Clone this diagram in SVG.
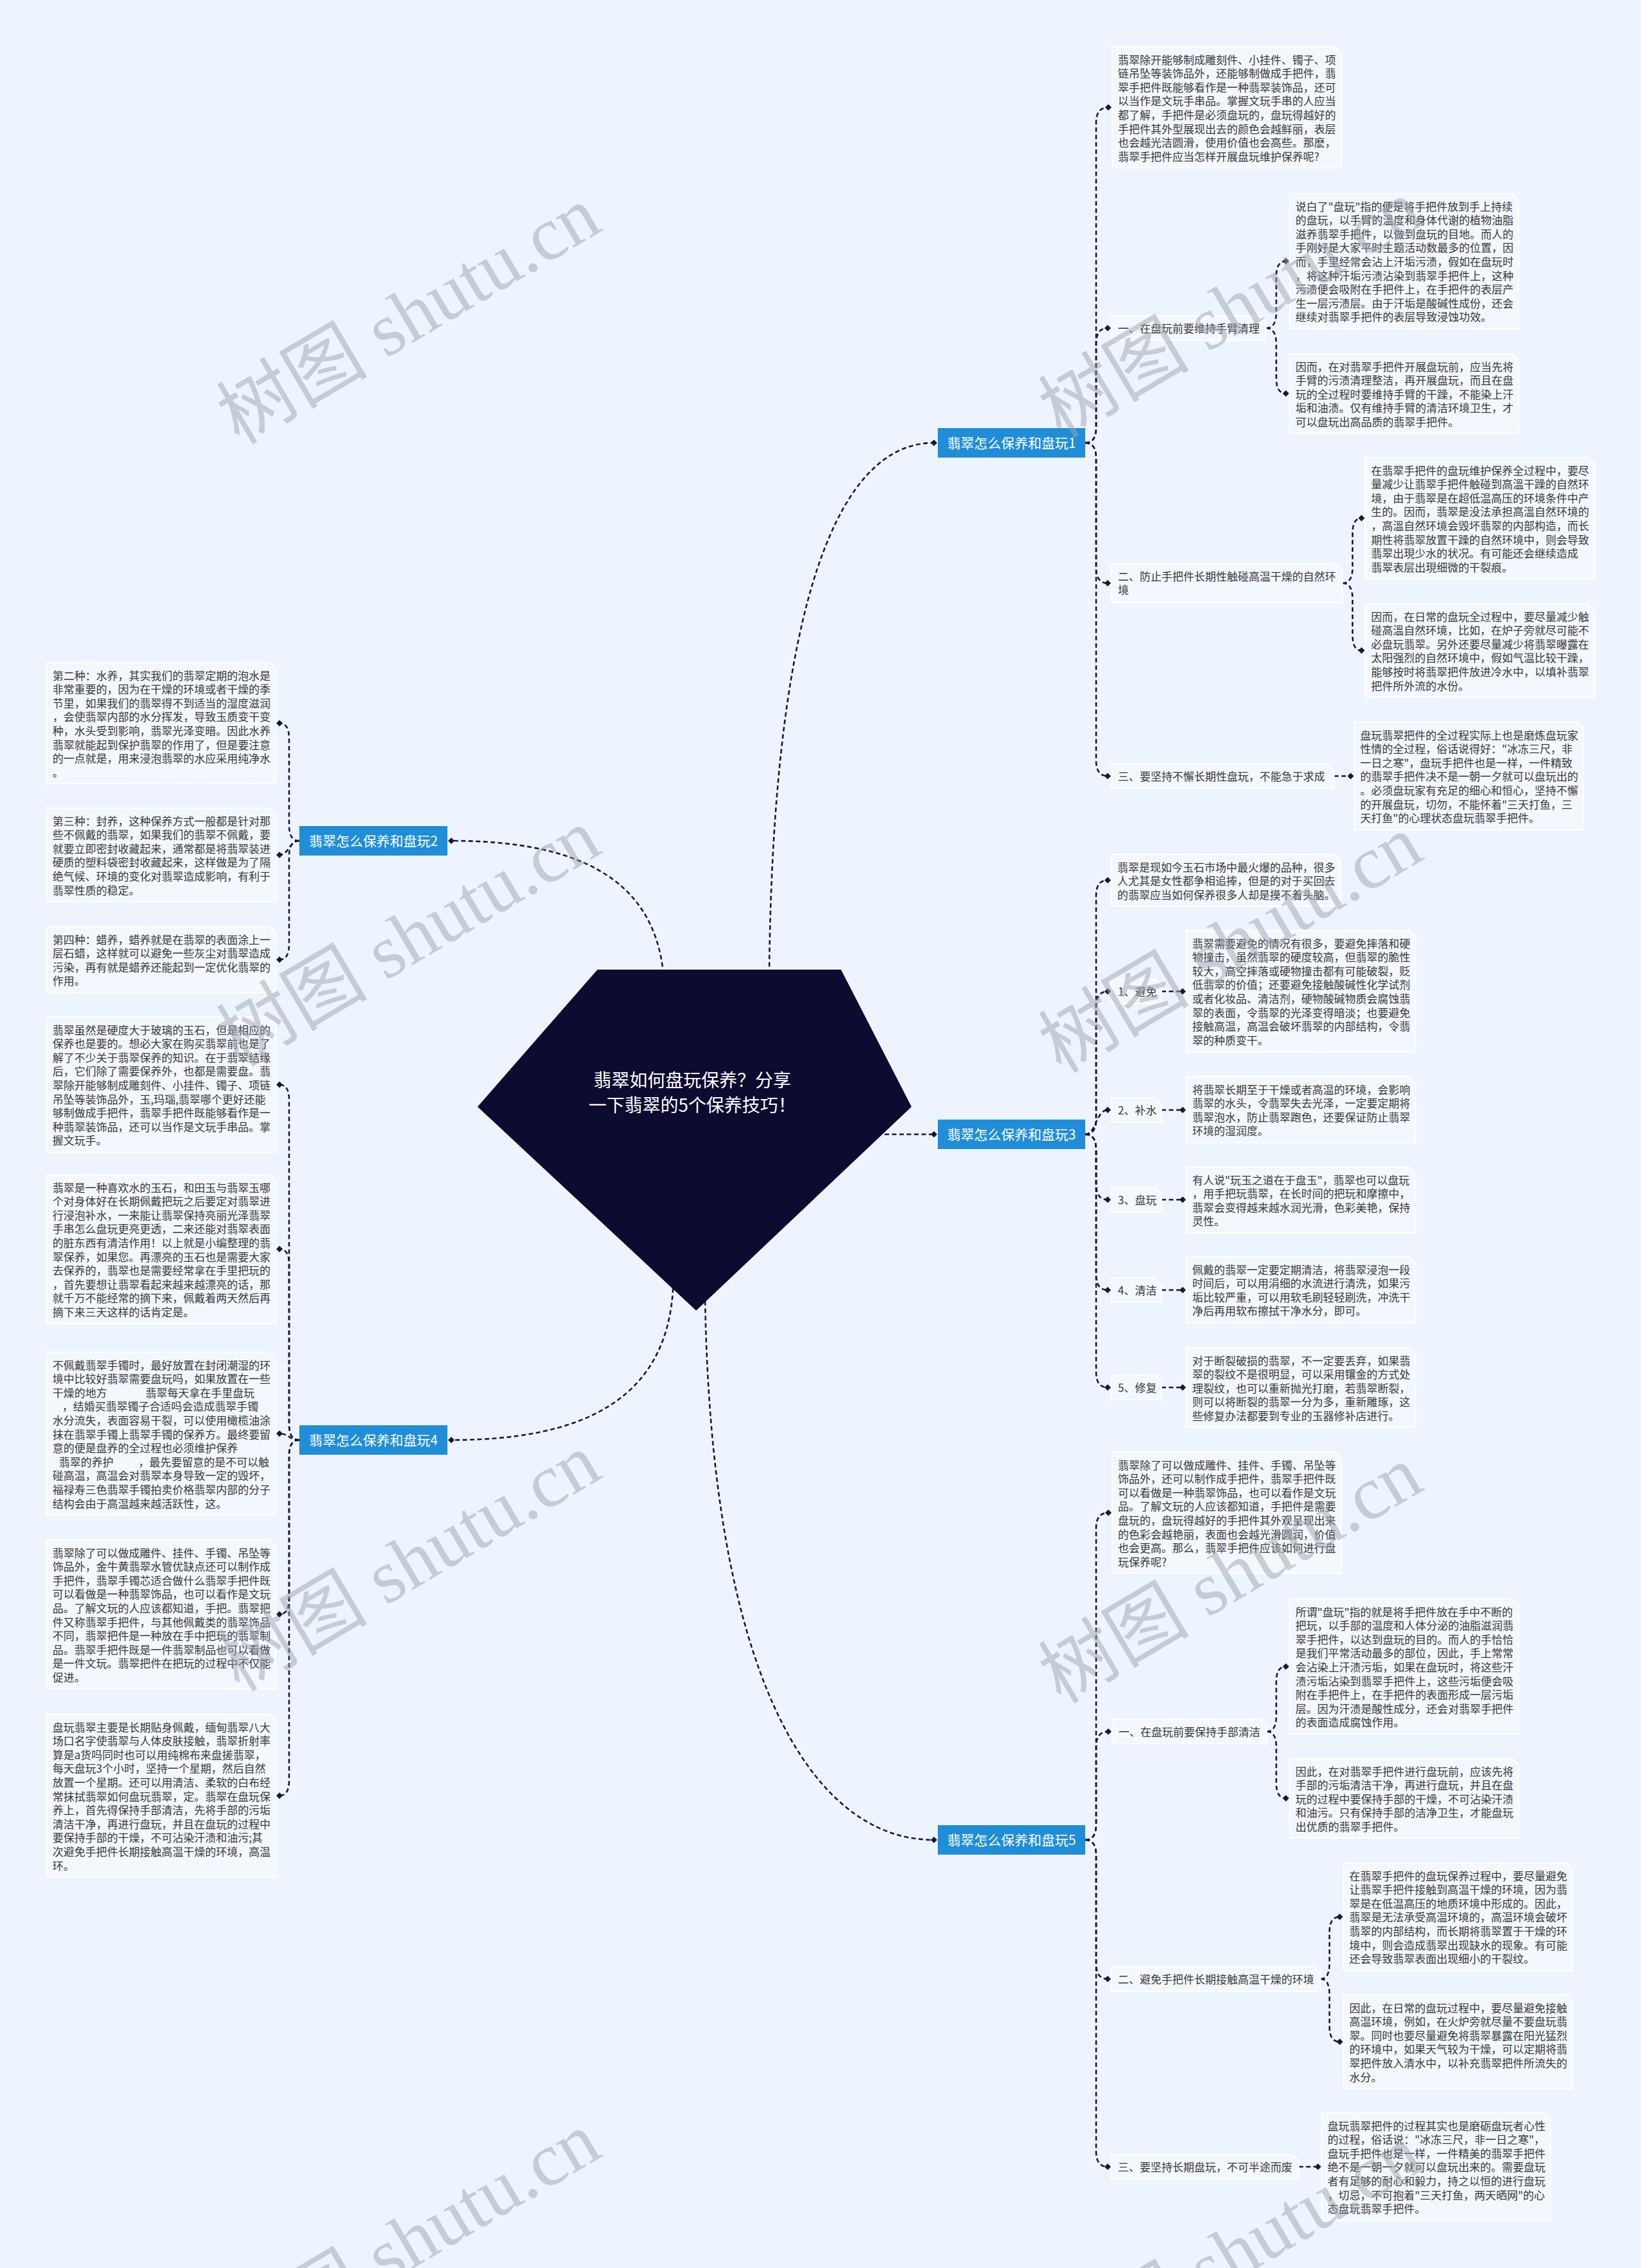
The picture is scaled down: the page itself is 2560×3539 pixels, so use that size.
<svg xmlns="http://www.w3.org/2000/svg" width="2560" height="3539" viewBox="0 0 2560 3539">
<style>
.bg{fill:#eef4fd}
.box{fill:#f3f7fe;stroke:#ffffff;stroke-width:2}
.t{font-family:"Noto Sans CJK SC","Liberation Sans",sans-serif;font-size:17px;fill:#383838}
.br{fill:#1f8dd8}
.bt{font-family:"Noto Sans CJK SC","Liberation Sans",sans-serif;font-size:21px;fill:#ffffff;text-anchor:middle}
.ct{font-family:"Noto Sans CJK SC","Liberation Sans",sans-serif;font-size:28px;fill:#ffffff;text-anchor:middle}
.cn{fill:none;stroke:#17173a;stroke-width:2.6;stroke-dasharray:7 4.5;marker-end:url(#dia)}
.wm{font-family:"Liberation Serif","Noto Sans CJK SC",serif;font-size:118px;fill:#9ea4b0;fill-opacity:0.5}
</style>
<defs>
<marker id="dia" viewBox="-6 -6 12 12" refX="0" refY="0" markerWidth="12" markerHeight="12" markerUnits="userSpaceOnUse" orient="auto">
<path d="M0,-5 L5,0 L0,5 L-5,0 Z" fill="#17173a"/>
</marker>
</defs>
<rect class="bg" x="0" y="0" width="2560" height="3539"/>

<g id="connectors">
<path class="cn" d="M1200 1520 C1205 1000 1290 691 1457 691"/>
<path class="cn" d="M1035 1520 C1020 1370 900 1312 704 1312"/>
<path class="cn" d="M1380 1770 H1457"/>
<path class="cn" d="M1050 2010 C1040 2190 900 2247 704 2247"/>
<path class="cn" d="M1100 2030 C1110 2600 1260 2871 1457 2871"/>

<path class="cn" d="M1693 691 Q1710 691 1710 667 V191.5 Q1710 167.5 1729 167.5"/>
<path class="cn" d="M1693 691 Q1710 691 1710 667 V536 Q1710 512 1728 512"/>
<path class="cn" d="M1693 691 Q1710 691 1710 715 V886 Q1710 910 1728 910"/>
<path class="cn" d="M1693 691 Q1710 691 1710 715 V1187 Q1710 1211 1728 1211"/>
<path class="cn" d="M1975 512 Q1991 512 1991 488 V431.5 Q1991 407.5 2006 407.5"/>
<path class="cn" d="M1975 512 Q1991 512 1991 536 V590 Q1991 614 2006 614"/>
<path class="cn" d="M2094 910 Q2110 910 2110 886 V832.5 Q2110 808.5 2124 808.5"/>
<path class="cn" d="M2094 910 Q2110 910 2110 934 V991 Q2110 1015 2124 1015"/>
<path class="cn" d="M2081 1211 H2107"/>

<path class="cn" d="M467 1312 Q451 1312 451 1288 V1152.5 Q451 1128.5 436 1128.5"/>
<path class="cn" d="M467 1312 C451 1312 451 1334 436 1334"/>
<path class="cn" d="M467 1312 Q451 1312 451 1336 V1473.5 Q451 1497.5 436 1497.5"/>

<path class="cn" d="M1693 1770 Q1710 1770 1710 1746 V1397.5 Q1710 1373.5 1728 1373.5"/>
<path class="cn" d="M1693 1770 Q1710 1770 1710 1746 V1571 Q1710 1547 1728 1547"/>
<path class="cn" d="M1693 1770 C1710 1770 1710 1732 1728 1732"/>
<path class="cn" d="M1693 1770 Q1710 1770 1710 1794 V1848 Q1710 1872 1728 1872"/>
<path class="cn" d="M1693 1770 Q1710 1770 1710 1794 V1989 Q1710 2013 1728 2013"/>
<path class="cn" d="M1693 1770 Q1710 1770 1710 1794 V2141 Q1710 2165 1728 2165"/>
<path class="cn" d="M1812 1547 H1845"/>
<path class="cn" d="M1812 1732 H1845"/>
<path class="cn" d="M1812 1872 H1845"/>
<path class="cn" d="M1812 2013 H1845"/>
<path class="cn" d="M1812 2165 H1845"/>

<path class="cn" d="M467 2247 Q451 2247 451 2223 V1716.5 Q451 1692.5 436 1692.5"/>
<path class="cn" d="M467 2247 Q451 2247 451 2223 V1973 Q451 1949 436 1949"/>
<path class="cn" d="M467 2247 C451 2247 451 2237 436 2237"/>
<path class="cn" d="M467 2247 Q451 2247 451 2271 V2495 Q451 2519 436 2519"/>
<path class="cn" d="M467 2247 Q451 2247 451 2271 V2778 Q451 2802 436 2802"/>

<path class="cn" d="M1693 2871 Q1710 2871 1710 2847 V2384.5 Q1710 2360.5 1729 2360.5"/>
<path class="cn" d="M1693 2871 Q1710 2871 1710 2847 V2726 Q1710 2702 1729 2702"/>
<path class="cn" d="M1693 2871 Q1710 2871 1710 2895 V3064 Q1710 3088 1728 3088"/>
<path class="cn" d="M1693 2871 Q1710 2871 1710 2895 V3357 Q1710 3381 1728 3381"/>
<path class="cn" d="M1976 2702 Q1991 2702 1991 2678 V2624.5 Q1991 2600.5 2006 2600.5"/>
<path class="cn" d="M1976 2702 Q1991 2702 1991 2726 V2782 Q1991 2806 2006 2806"/>
<path class="cn" d="M2060 3088 Q2074 3088 2074 3064 V3015 Q2074 2991 2090 2991"/>
<path class="cn" d="M2060 3088 Q2074 3088 2074 3112 V3162 Q2074 3186 2090 3186"/>
<path class="cn" d="M2026 3381 H2056"/>
</g>

<g id="root">
<polygon points="932,1513 1312,1513 1422,1727 1086,2045 745,1727" fill="#0c0b30"/>
<text class="ct" x="1080" y="1696">翡翠如何盘玩保养？分享</text>
<text class="ct" x="1080" y="1735">一下翡翠的5个保养技巧！</text>
</g>

<g id="b1"><rect class="br" x="1463" y="668" width="230" height="46"/><text class="bt" x="1578" y="698.5">翡翠怎么保养和盘玩1</text></g>
<g id="b2"><rect class="br" x="467" y="1289" width="231" height="46"/><text class="bt" x="582.5" y="1319.5">翡翠怎么保养和盘玩2</text></g>
<g id="b3"><rect class="br" x="1463" y="1747" width="230" height="46"/><text class="bt" x="1578" y="1777.5">翡翠怎么保养和盘玩3</text></g>
<g id="b4"><rect class="br" x="467" y="2224" width="231" height="46"/><text class="bt" x="582.5" y="2254.5">翡翠怎么保养和盘玩4</text></g>
<g id="b5"><rect class="br" x="1463" y="2848" width="230" height="46"/><text class="bt" x="1578" y="2878.5">翡翠怎么保养和盘玩5</text></g>

<g id="b1-intro"><path class="box" d="M1735 73 H2082 L2092 83 V262 H1735 Z"/>
<text class="t"><tspan x="1744" y="99.5">翡翠除开能够制成雕刻件、小挂件、镯子、项</tspan><tspan x="1744" dy="21.6">链吊坠等装饰品外，还能够制做成手把件，翡</tspan><tspan x="1744" dy="21.6">翠手把件既能够看作是一种翡翠装饰品，还可</tspan><tspan x="1744" dy="21.6">以当作是文玩手串品。掌握文玩手串的人应当</tspan><tspan x="1744" dy="21.6">都了解，手把件是必须盘玩的，盘玩得越好的</tspan><tspan x="1744" dy="21.6">手把件其外型展现出去的颜色会越鲜丽，表层</tspan><tspan x="1744" dy="21.6">也会越光洁圆滑，使用价值也会高些。那麽，</tspan><tspan x="1744" dy="21.6">翡翠手把件应当怎样开展盘玩维护保养呢?</tspan></text></g>

<g id="b1-s1"><path class="box" d="M1734 493 H1965 L1975 503 V531 H1734 Z"/><text class="t" x="1744" y="518.5">一、在盘玩前要维持手臂清理</text></g>
<g id="b1-s1-a"><path class="box" d="M2012 302 H2359 L2369 312 V513 H2012 Z"/>
<text class="t"><tspan x="2021" y="328.5">说白了"盘玩"指的便是将手把件放到手上持续</tspan><tspan x="2021" dy="21.6">的盘玩，以手臂的溫度和身体代谢的植物油脂</tspan><tspan x="2021" dy="21.6">滋养翡翠手把件，以做到盘玩的目地。而人的</tspan><tspan x="2021" dy="21.6">手刚好是大家平时主题活动数最多的位置，因</tspan><tspan x="2021" dy="21.6">而，手里经常会沾上汗垢污渍，假如在盘玩时</tspan><tspan x="2021" dy="21.6">，将这种汗垢污渍沾染到翡翠手把件上，这种</tspan><tspan x="2021" dy="21.6">污渍便会吸附在手把件上，在手把件的表层产</tspan><tspan x="2021" dy="21.6">生一层污渍层。由于汗垢是酸碱性成份，还会</tspan><tspan x="2021" dy="21.6">继续对翡翠手把件的表层导致浸蚀功效。</tspan></text></g>
<g id="b1-s1-b"><path class="box" d="M2012 552 H2359 L2369 562 V676 H2012 Z"/>
<text class="t"><tspan x="2021" y="578.5">因而，在对翡翠手把件开展盘玩前，应当先将</tspan><tspan x="2021" dy="21.6">手臂的污渍清理整洁，再开展盘玩，而且在盘</tspan><tspan x="2021" dy="21.6">玩的全过程时要维持手臂的干躁，不能染上汗</tspan><tspan x="2021" dy="21.6">垢和油渍。仅有维持手臂的清洁环境卫生，才</tspan><tspan x="2021" dy="21.6">可以盘玩出高品质的翡翠手把件。</tspan></text></g>

<g id="b1-s2"><path class="box" d="M1734 880 H2084 L2094 890 V940 H1734 Z"/><text class="t"><tspan x="1744" y="905.5">二、防止手把件长期性触碰高温干燥的自然环</tspan><tspan x="1744" dy="21.6">境</tspan></text></g>
<g id="b1-s2-a"><path class="box" d="M2130 714 H2477 L2487 724 V903 H2130 Z"/>
<text class="t"><tspan x="2139" y="740.5">在翡翠手把件的盘玩维护保养全过程中，要尽</tspan><tspan x="2139" dy="21.6">量减少让翡翠手把件触碰到高溫干躁的自然环</tspan><tspan x="2139" dy="21.6">境，由于翡翠是在超低温高压的环境条件中产</tspan><tspan x="2139" dy="21.6">生的。因而，翡翠是没法承担高溫自然环境的</tspan><tspan x="2139" dy="21.6">，高溫自然环境会毁坏翡翠的内部构造，而长</tspan><tspan x="2139" dy="21.6">期性将翡翠放置干躁的自然环境中，则会导致</tspan><tspan x="2139" dy="21.6">翡翠出現少水的状况。有可能还会继续造成</tspan><tspan x="2139" dy="21.6">翡翠表层出現细微的干裂痕。</tspan></text></g>
<g id="b1-s2-b"><path class="box" d="M2130 942 H2477 L2487 952 V1088 H2130 Z"/>
<text class="t"><tspan x="2139" y="968.5">因而，在日常的盘玩全过程中，要尽量减少触</tspan><tspan x="2139" dy="21.6">碰高溫自然环境，比如，在炉子旁就尽可能不</tspan><tspan x="2139" dy="21.6">必盘玩翡翠。另外还要尽量减少将翡翠曝露在</tspan><tspan x="2139" dy="21.6">太阳强烈的自然环境中，假如气温比较干躁，</tspan><tspan x="2139" dy="21.6">能够按时将翡翠把件放进冷水中，以填补翡翠</tspan><tspan x="2139" dy="21.6">把件所外流的水份。</tspan></text></g>

<g id="b1-s3"><path class="box" d="M1734 1192 H2071 L2081 1202 V1230 H1734 Z"/><text class="t" x="1744" y="1217.5">三、要坚持不懈长期性盘玩，不能急于求成</text></g>
<g id="b1-s3-a"><path class="box" d="M2113 1127 H2460 L2470 1137 V1295 H2113 Z"/>
<text class="t"><tspan x="2122" y="1153.5">盘玩翡翠把件的全过程实际上也是磨炼盘玩家</tspan><tspan x="2122" dy="21.6">性情的全过程，俗话说得好："冰冻三尺，非</tspan><tspan x="2122" dy="21.6">一日之寒"，盘玩手把件也是一样，一件精致</tspan><tspan x="2122" dy="21.6">的翡翠手把件决不是一朝一夕就可以盘玩出的</tspan><tspan x="2122" dy="21.6">。必须盘玩家有充足的细心和恒心，坚持不懈</tspan><tspan x="2122" dy="21.6">的开展盘玩，切勿，不能怀着"三天打鱼，三</tspan><tspan x="2122" dy="21.6">天打鱼"的心理状态盘玩翡翠手把件。</tspan></text></g>

<g id="b2-a"><path class="box" d="M73 1034 H420 L430 1044 V1223 H73 Z"/>
<text class="t"><tspan x="82" y="1060.5">第二种：水养，其实我们的翡翠定期的泡水是</tspan><tspan x="82" dy="21.6">非常重要的，因为在干燥的环境或者干燥的季</tspan><tspan x="82" dy="21.6">节里，如果我们的翡翠得不到适当的湿度滋润</tspan><tspan x="82" dy="21.6">，会使翡翠内部的水分挥发，导致玉质变干变</tspan><tspan x="82" dy="21.6">种，水头受到影响，翡翠光泽变暗。因此水养</tspan><tspan x="82" dy="21.6">翡翠就能起到保护翡翠的作用了，但是要注意</tspan><tspan x="82" dy="21.6">的一点就是，用来浸泡翡翠的水应采用纯净水</tspan><tspan x="82" dy="21.6">。</tspan></text></g>
<g id="b2-b"><path class="box" d="M73 1261 H420 L430 1271 V1407 H73 Z"/>
<text class="t"><tspan x="82" y="1287.5">第三种：封养，这种保养方式一般都是针对那</tspan><tspan x="82" dy="21.6">些不佩戴的翡翠，如果我们的翡翠不佩戴，要</tspan><tspan x="82" dy="21.6">就要立即密封收藏起来，通常都是将翡翠装进</tspan><tspan x="82" dy="21.6">硬质的塑料袋密封收藏起来，这样做是为了隔</tspan><tspan x="82" dy="21.6">绝气候、环境的变化对翡翠造成影响，有利于</tspan><tspan x="82" dy="21.6">翡翠性质的稳定。</tspan></text></g>
<g id="b2-c"><path class="box" d="M73 1446 H420 L430 1456 V1549 H73 Z"/>
<text class="t"><tspan x="82" y="1472.5">第四种：蜡养，蜡养就是在翡翠的表面涂上一</tspan><tspan x="82" dy="21.6">层石蜡，这样就可以避免一些灰尘对翡翠造成</tspan><tspan x="82" dy="21.6">污染，再有就是蜡养还能起到一定优化翡翠的</tspan><tspan x="82" dy="21.6">作用。</tspan></text></g>

<g id="b3-intro"><path class="box" d="M1734 1333 H2081 L2091 1343 V1414 H1734 Z"/>
<text class="t"><tspan x="1743" y="1359.5">翡翠是现如今玉石市场中最火爆的品种，很多</tspan><tspan x="1743" dy="21.6">人尤其是女性都争相追捧，但是的对于买回去</tspan><tspan x="1743" dy="21.6">的翡翠应当如何保养很多人却是摸不着头脑。</tspan></text></g>
<g id="b3-s1"><path class="box" d="M1734 1528 H1802 L1812 1538 V1566 H1734 Z"/><text class="t" x="1744" y="1553.5">1、避免</text></g>
<g id="b3-s1-a"><path class="box" d="M1851 1452 H2198 L2208 1462 V1641 H1851 Z"/>
<text class="t"><tspan x="1860" y="1478.5">翡翠需要避免的情况有很多，要避免摔落和硬</tspan><tspan x="1860" dy="21.6">物撞击，虽然翡翠的硬度较高，但翡翠的脆性</tspan><tspan x="1860" dy="21.6">较大，高空摔落或硬物撞击都有可能破裂，贬</tspan><tspan x="1860" dy="21.6">低翡翠的价值；还要避免接触酸碱性化学试剂</tspan><tspan x="1860" dy="21.6">或者化妆品、清洁剂，硬物酸碱物质会腐蚀翡</tspan><tspan x="1860" dy="21.6">翠的表面，令翡翠的光泽变得暗淡；也要避免</tspan><tspan x="1860" dy="21.6">接触高温，高温会破坏翡翠的内部结构，令翡</tspan><tspan x="1860" dy="21.6">翠的种质变干。</tspan></text></g>
<g id="b3-s2"><path class="box" d="M1734 1713 H1802 L1812 1723 V1751 H1734 Z"/><text class="t" x="1744" y="1738.5">2、补水</text></g>
<g id="b3-s2-a"><path class="box" d="M1851 1680 H2198 L2208 1690 V1783 H1851 Z"/>
<text class="t"><tspan x="1860" y="1706.5">将翡翠长期至于干燥或者高温的环境，会影响</tspan><tspan x="1860" dy="21.6">翡翠的水头，令翡翠失去光泽，一定要定期将</tspan><tspan x="1860" dy="21.6">翡翠泡水，防止翡翠跑色，还要保证防止翡翠</tspan><tspan x="1860" dy="21.6">环境的湿润度。</tspan></text></g>
<g id="b3-s3"><path class="box" d="M1734 1853 H1802 L1812 1863 V1891 H1734 Z"/><text class="t" x="1744" y="1878.5">3、盘玩</text></g>
<g id="b3-s3-a"><path class="box" d="M1851 1821 H2198 L2208 1831 V1924 H1851 Z"/>
<text class="t"><tspan x="1860" y="1847.5">有人说"玩玉之道在于盘玉"，翡翠也可以盘玩</tspan><tspan x="1860" dy="21.6">，用手把玩翡翠，在长时间的把玩和摩擦中，</tspan><tspan x="1860" dy="21.6">翡翠会变得越来越水润光滑，色彩美艳，保持</tspan><tspan x="1860" dy="21.6">灵性。</tspan></text></g>
<g id="b3-s4"><path class="box" d="M1734 1994 H1802 L1812 2004 V2032 H1734 Z"/><text class="t" x="1744" y="2019.5">4、清洁</text></g>
<g id="b3-s4-a"><path class="box" d="M1851 1961 H2198 L2208 1971 V2064 H1851 Z"/>
<text class="t"><tspan x="1860" y="1987.5">佩戴的翡翠一定要定期清洁，将翡翠浸泡一段</tspan><tspan x="1860" dy="21.6">时间后，可以用涓细的水流进行清洗，如果污</tspan><tspan x="1860" dy="21.6">垢比较严重，可以用软毛刷轻轻刷洗，冲洗干</tspan><tspan x="1860" dy="21.6">净后再用软布擦拭干净水分，即可。</tspan></text></g>
<g id="b3-s5"><path class="box" d="M1734 2146 H1802 L1812 2156 V2184 H1734 Z"/><text class="t" x="1744" y="2171.5">5、修复</text></g>
<g id="b3-s5-a"><path class="box" d="M1851 2103 H2198 L2208 2113 V2227 H1851 Z"/>
<text class="t"><tspan x="1860" y="2129.5">对于断裂破损的翡翠，不一定要丢弃，如果翡</tspan><tspan x="1860" dy="21.6">翠的裂纹不是很明显，可以采用镶金的方式处</tspan><tspan x="1860" dy="21.6">理裂纹，也可以重新抛光打磨，若翡翠断裂，</tspan><tspan x="1860" dy="21.6">则可以将断裂的翡翠一分为多，重新雕琢，这</tspan><tspan x="1860" dy="21.6">些修复办法都要到专业的玉器修补店进行。</tspan></text></g>

<g id="b4-a"><path class="box" d="M73 1587 H420 L430 1597 V1798 H73 Z"/>
<text class="t"><tspan x="82" y="1613.5">翡翠虽然是硬度大于玻璃的玉石，但是相应的</tspan><tspan x="82" dy="21.6">保养也是要的。想必大家在购买翡翠前也是了</tspan><tspan x="82" dy="21.6">解了不少关于翡翠保养的知识。在于翡翠结缘</tspan><tspan x="82" dy="21.6">后，它们除了需要保养外，也都是需要盘。翡</tspan><tspan x="82" dy="21.6">翠除开能够制成雕刻件、小挂件、镯子、项链</tspan><tspan x="82" dy="21.6">吊坠等装饰品外，玉,玛瑙,翡翠哪个更好还能</tspan><tspan x="82" dy="21.6">够制做成手把件，翡翠手把件既能够看作是一</tspan><tspan x="82" dy="21.6">种翡翠装饰品，还可以当作是文玩手串品。掌</tspan><tspan x="82" dy="21.6">握文玩手。</tspan></text></g>
<g id="b4-b"><path class="box" d="M73 1833 H420 L430 1843 V2065 H73 Z"/>
<text class="t"><tspan x="82" y="1859.5">翡翠是一种喜欢水的玉石，和田玉与翡翠玉哪</tspan><tspan x="82" dy="21.6">个对身体好在长期佩戴把玩之后要定对翡翠进</tspan><tspan x="82" dy="21.6">行浸泡补水，一来能让翡翠保持亮丽光泽翡翠</tspan><tspan x="82" dy="21.6">手串怎么盘玩更亮更透，二来还能对翡翠表面</tspan><tspan x="82" dy="21.6">的脏东西有清洁作用！以上就是小编整理的翡</tspan><tspan x="82" dy="21.6">翠保养，如果您。再漂亮的玉石也是需要大家</tspan><tspan x="82" dy="21.6">去保养的，翡翠也是需要经常拿在手里把玩的</tspan><tspan x="82" dy="21.6">，首先要想让翡翠看起来越来越漂亮的话，那</tspan><tspan x="82" dy="21.6">就千万不能经常的摘下来，佩戴着两天然后再</tspan><tspan x="82" dy="21.6">摘下来三天这样的话肯定是。</tspan></text></g>
<g id="b4-c"><path class="box" d="M73 2110 H420 L430 2120 V2364 H73 Z"/>
<text class="t"><tspan x="82" y="2136.5">不佩戴翡翠手镯时，最好放置在封闭潮湿的环</tspan><tspan x="82" dy="21.6">境中比较好翡翠需要盘玩吗，如果放置在一些</tspan><tspan x="82" dy="21.6">干燥的地方</tspan><tspan x="227">翡翠每天拿在手里盘玩</tspan><tspan x="97" dy="21.6">，结婚买翡翠镯子合适吗会造成翡翠手镯</tspan><tspan x="82" dy="21.6">水分流失，表面容易干裂，可以使用橄榄油涂</tspan><tspan x="82" dy="21.6">抹在翡翠手镯上翡翠手镯的保养方。最终要留</tspan><tspan x="82" dy="21.6">意的便是盘养的全过程也必须维护保养</tspan><tspan x="92" dy="21.6">翡翠的养护</tspan><tspan x="216">，最先要留意的是不可以触</tspan><tspan x="82" dy="21.6">碰高温，高温会对翡翠本身导致一定的毁坏，</tspan><tspan x="82" dy="21.6">福禄寿三色翡翠手镯拍卖价格翡翠内部的分子</tspan><tspan x="82" dy="21.6">结构会由于高温越来越活跃性，这。</tspan></text></g>
<g id="b4-d"><path class="box" d="M73 2403 H420 L430 2413 V2635 H73 Z"/>
<text class="t"><tspan x="82" y="2429.5">翡翠除了可以做成雕件、挂件、手镯、吊坠等</tspan><tspan x="82" dy="21.6">饰品外，金牛黄翡翠水管优缺点还可以制作成</tspan><tspan x="82" dy="21.6">手把件，翡翠手镯芯适合做什么翡翠手把件既</tspan><tspan x="82" dy="21.6">可以看做是一种翡翠饰品，也可以看作是文玩</tspan><tspan x="82" dy="21.6">品。了解文玩的人应该都知道，手把。翡翠把</tspan><tspan x="82" dy="21.6">件又称翡翠手把件，与其他佩戴类的翡翠饰品</tspan><tspan x="82" dy="21.6">不同，翡翠把件是一种放在手中把玩的翡翠制</tspan><tspan x="82" dy="21.6">品。翡翠手把件既是一件翡翠制品也可以看做</tspan><tspan x="82" dy="21.6">是一件文玩。翡翠把件在把玩的过程中不仅能</tspan><tspan x="82" dy="21.6">促进。</tspan></text></g>
<g id="b4-e"><path class="box" d="M73 2675 H420 L430 2685 V2929 H73 Z"/>
<text class="t"><tspan x="82" y="2701.5">盘玩翡翠主要是长期贴身佩戴，缅甸翡翠八大</tspan><tspan x="82" dy="21.6">场口名字使翡翠与人体皮肤接触，翡翠折射率</tspan><tspan x="82" dy="21.6">算是a货吗同时也可以用纯棉布来盘搓翡翠，</tspan><tspan x="82" dy="21.6">每天盘玩3个小时，坚持一个星期，然后自然</tspan><tspan x="82" dy="21.6">放置一个星期。还可以用清洁、柔软的白布经</tspan><tspan x="82" dy="21.6">常抹拭翡翠如何盘玩翡翠，定。翡翠在盘玩保</tspan><tspan x="82" dy="21.6">养上，首先得保持手部清洁，先将手部的污垢</tspan><tspan x="82" dy="21.6">清洁干净，再进行盘玩，并且在盘玩的过程中</tspan><tspan x="82" dy="21.6">要保持手部的干燥，不可沾染汗渍和油污;其</tspan><tspan x="82" dy="21.6">次避免手把件长期接触高温干燥的环境，高温</tspan><tspan x="82" dy="21.6">环。</tspan></text></g>

<g id="b5-intro"><path class="box" d="M1735 2266 H2082 L2092 2276 V2455 H1735 Z"/>
<text class="t"><tspan x="1744" y="2292.5">翡翠除了可以做成雕件、挂件、手镯、吊坠等</tspan><tspan x="1744" dy="21.6">饰品外，还可以制作成手把件，翡翠手把件既</tspan><tspan x="1744" dy="21.6">可以看做是一种翡翠饰品，也可以看作是文玩</tspan><tspan x="1744" dy="21.6">品。了解文玩的人应该都知道，手把件是需要</tspan><tspan x="1744" dy="21.6">盘玩的，盘玩得越好的手把件其外观呈现出来</tspan><tspan x="1744" dy="21.6">的色彩会越艳丽，表面也会越光滑圆润，价值</tspan><tspan x="1744" dy="21.6">也会更高。那么，翡翠手把件应该如何进行盘</tspan><tspan x="1744" dy="21.6">玩保养呢?</tspan></text></g>
<g id="b5-s1"><path class="box" d="M1735 2683 H1966 L1976 2693 V2721 H1735 Z"/><text class="t" x="1745" y="2708.5">一、在盘玩前要保持手部清洁</text></g>
<g id="b5-s1-a"><path class="box" d="M2012 2495 H2359 L2369 2505 V2706 H2012 Z"/>
<text class="t"><tspan x="2021" y="2521.5">所谓"盘玩"指的就是将手把件放在手中不断的</tspan><tspan x="2021" dy="21.6">把玩，以手部的温度和人体分泌的油脂滋润翡</tspan><tspan x="2021" dy="21.6">翠手把件，以达到盘玩的目的。而人的手恰恰</tspan><tspan x="2021" dy="21.6">是我们平常活动最多的部位，因此，手上常常</tspan><tspan x="2021" dy="21.6">会沾染上汗渍污垢，如果在盘玩时，将这些汗</tspan><tspan x="2021" dy="21.6">渍污垢沾染到翡翠手把件上，这些污垢便会吸</tspan><tspan x="2021" dy="21.6">附在手把件上，在手把件的表面形成一层污垢</tspan><tspan x="2021" dy="21.6">层。因为汗渍是酸性成分，还会对翡翠手把件</tspan><tspan x="2021" dy="21.6">的表面造成腐蚀作用。</tspan></text></g>
<g id="b5-s1-b"><path class="box" d="M2012 2744 H2359 L2369 2754 V2868 H2012 Z"/>
<text class="t"><tspan x="2021" y="2770.5">因此，在对翡翠手把件进行盘玩前，应该先将</tspan><tspan x="2021" dy="21.6">手部的污垢清洁干净，再进行盘玩，并且在盘</tspan><tspan x="2021" dy="21.6">玩的过程中要保持手部的干燥，不可沾染汗渍</tspan><tspan x="2021" dy="21.6">和油污。只有保持手部的洁净卫生，才能盘玩</tspan><tspan x="2021" dy="21.6">出优质的翡翠手把件。</tspan></text></g>
<g id="b5-s2"><path class="box" d="M1734 3069 H2050 L2060 3079 V3107 H1734 Z"/><text class="t" x="1744" y="3094.5">二、避免手把件长期接触高温干燥的环境</text></g>
<g id="b5-s2-a"><path class="box" d="M2096 2907 H2443 L2453 2917 V3075 H2096 Z"/>
<text class="t"><tspan x="2105" y="2933.5">在翡翠手把件的盘玩保养过程中，要尽量避免</tspan><tspan x="2105" dy="21.6">让翡翠手把件接触到高温干燥的环境，因为翡</tspan><tspan x="2105" dy="21.6">翠是在低温高压的地质环境中形成的。因此，</tspan><tspan x="2105" dy="21.6">翡翠是无法承受高温环境的，高温环境会破坏</tspan><tspan x="2105" dy="21.6">翡翠的内部结构，而长期将翡翠置于干燥的环</tspan><tspan x="2105" dy="21.6">境中，则会造成翡翠出现缺水的现象。有可能</tspan><tspan x="2105" dy="21.6">还会导致翡翠表面出现细小的干裂纹。</tspan></text></g>
<g id="b5-s2-b"><path class="box" d="M2096 3113 H2443 L2453 3123 V3259 H2096 Z"/>
<text class="t"><tspan x="2105" y="3139.5">因此，在日常的盘玩过程中，要尽量避免接触</tspan><tspan x="2105" dy="21.6">高温环境，例如，在火炉旁就尽量不要盘玩翡</tspan><tspan x="2105" dy="21.6">翠。同时也要尽量避免将翡翠暴露在阳光猛烈</tspan><tspan x="2105" dy="21.6">的环境中，如果天气较为干燥，可以定期将翡</tspan><tspan x="2105" dy="21.6">翠把件放入清水中，以补充翡翠把件所流失的</tspan><tspan x="2105" dy="21.6">水分。</tspan></text></g>
<g id="b5-s3"><path class="box" d="M1734 3362 H2016 L2026 3372 V3400 H1734 Z"/><text class="t" x="1744" y="3387.5">三、要坚持长期盘玩，不可半途而废</text></g>
<g id="b5-s3-a"><path class="box" d="M2062 3297 H2409 L2419 3307 V3465 H2062 Z"/>
<text class="t"><tspan x="2071" y="3323.5">盘玩翡翠把件的过程其实也是磨砺盘玩者心性</tspan><tspan x="2071" dy="21.6">的过程，俗话说："冰冻三尺，非一日之寒"，</tspan><tspan x="2071" dy="21.6">盘玩手把件也是一样，一件精美的翡翠手把件</tspan><tspan x="2071" dy="21.6">绝不是一朝一夕就可以盘玩出来的。需要盘玩</tspan><tspan x="2071" dy="21.6">者有足够的耐心和毅力，持之以恒的进行盘玩</tspan><tspan x="2071" dy="21.6">，切忌，不可抱着"三天打鱼，两天晒网"的心</tspan><tspan x="2071" dy="21.6">态盘玩翡翠手把件。</tspan></text></g>

<g id="watermarks">
<text class="wm" x="373" y="695" transform="rotate(-30.6 373 695)">树图 shutu.cn</text>
<text class="wm" x="1655" y="685" transform="rotate(-30.6 1655 685)">树图 shutu.cn</text>
<text class="wm" x="373" y="1666" transform="rotate(-30.6 373 1666)">树图 shutu.cn</text>
<text class="wm" x="1655" y="1676" transform="rotate(-30.6 1655 1676)">树图 shutu.cn</text>
<text class="wm" x="373" y="2641" transform="rotate(-30.6 373 2641)">树图 shutu.cn</text>
<text class="wm" x="1655" y="2660" transform="rotate(-30.6 1655 2660)">树图 shutu.cn</text>
<text class="wm" x="373" y="3700" transform="rotate(-30.6 373 3700)">树图 shutu.cn</text>
<text class="wm" x="1655" y="3720" transform="rotate(-30.6 1655 3720)">树图 shutu.cn</text>
</g>
</svg>
